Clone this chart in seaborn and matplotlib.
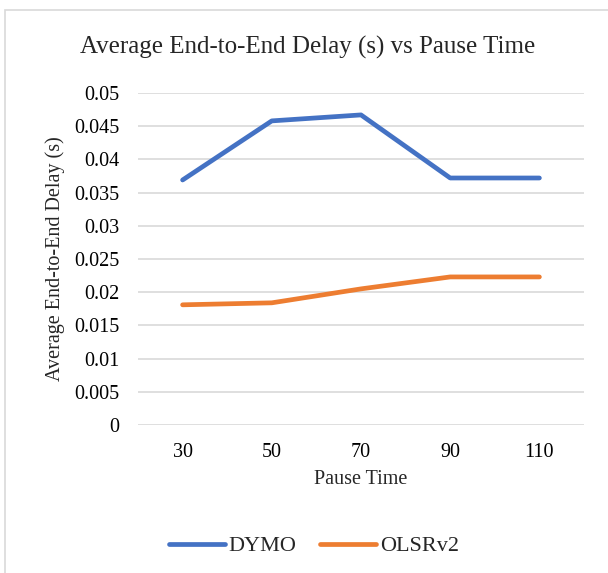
import pandas as pd
import matplotlib.pyplot as plt
import seaborn as sns
from matplotlib.patches import Rectangle

# data
pause_times = ['30', '50', '70', '90', '110']
dymo_delay = [0.0369, 0.0458, 0.0467, 0.0372, 0.0372]
olsr_delay = [0.0181, 0.0184, 0.0205, 0.0223, 0.0223]
ytick_labels = ['0', '0.005', '0.01', '0.015', '0.02', '0.025', '0.03',
                '0.035', '0.04', '0.045', '0.05']

df = pd.DataFrame({
    'Pause Time': pause_times * 2,
    'Delay': dymo_delay + olsr_delay,
    'Protocol': ['DYMO'] * 5 + ['OLSRv2'] * 5,
})

sns.set_theme(style='white')
plt.rcParams['font.family'] = ['Liberation Serif', 'DejaVu Serif']

blue, orange = '#4472C4', '#ED7D31'

fig = plt.figure(figsize=(6.08, 5.73), dpi=100)
ax = fig.add_axes([138 / 608, 1 - 425 / 573, (584 - 138) / 608, (425 - 93) / 573])

sns.lineplot(data=df, x='Pause Time', y='Delay', hue='Protocol',
             palette=[blue, orange], linewidth=3.4, ax=ax,
             solid_capstyle='round', legend=False)

ax.set_ylim(0, 0.05)
ax.set_xlim(-0.5, 4.5)
ax.set_yticks([i * 0.005 for i in range(11)])
ax.set_yticklabels(ytick_labels)
ax.grid(axis='y', color='#D9D9D9', linewidth=1.2)
ax.grid(axis='x', visible=False)
for s in ax.spines.values():
    s.set_visible(False)
ax.tick_params(axis='both', length=0, labelsize=14.5, colors='black')
ax.tick_params(axis='y', pad=13.5)
ax.tick_params(axis='x', pad=13)
ax.set_xlabel('Pause Time', fontsize=14.5, labelpad=6)
ax.set_ylabel('Average End-to-End Delay (s)', fontsize=14.5)
ax.yaxis.set_label_coords(-0.163, 0.5)

fig.text(308 / 608, 1 - 47 / 573, 'Average End-to-End Delay (s) vs Pause Time',
         fontsize=18, ha='center', va='center')

handles = [plt.Line2D([], [], color=blue, lw=3.4, solid_capstyle='round'),
           plt.Line2D([], [], color=orange, lw=3.4, solid_capstyle='round')]
fig.legend(handles, ['DYMO', 'OLSRv2'], loc='center', bbox_to_anchor=(314 / 608, 0.047),
           ncol=2, frameon=False, fontsize=16, handlelength=2.5,
           handletextpad=0.18, columnspacing=1.08)

# light outer frame of the chart area
fig.patches.append(Rectangle((5 / 608, -0.1), 1.2, 1 - 10 / 573 + 0.1,
                             transform=fig.transFigure, fill=False,
                             edgecolor='#D9D9D9', linewidth=1.2))

fig.savefig('out.png', dpi=100)
